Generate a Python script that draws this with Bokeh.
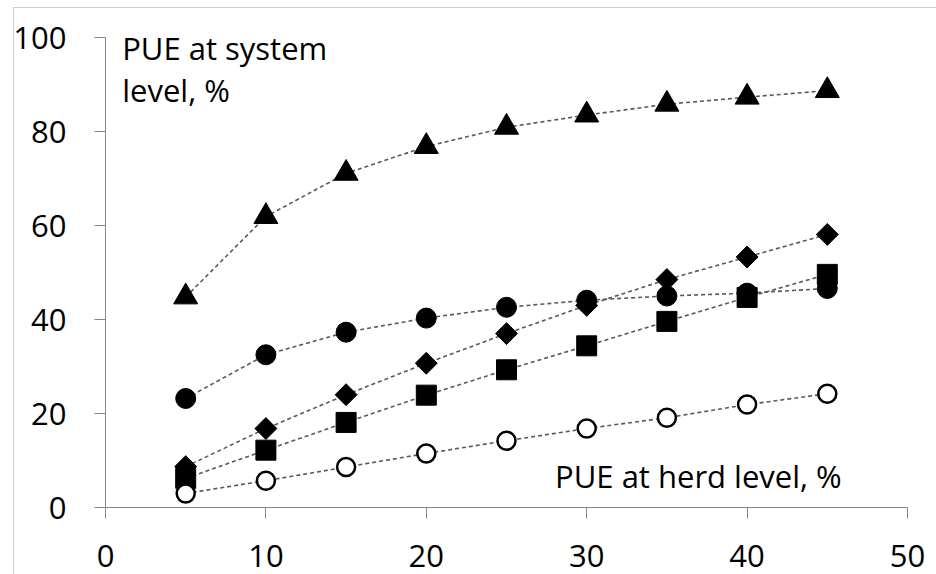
from math import pi
from bokeh.plotting import figure
from bokeh.models import FixedTicker, Label, Range1d
from bokeh.embed import file_html
from bokeh.resources import INLINE

# PUE at herd level, %
herd = [5, 10, 15, 20, 25, 30, 35, 40, 45]
# PUE at system level, % (one list per marker series)
triangle_vals = [44.8, 61.9, 71.1, 76.8, 80.9, 83.5, 85.8, 87.3, 88.7]
circle_vals = [23.2, 32.5, 37.3, 40.3, 42.6, 44.1, 45.0, 45.6, 46.6]
diamond_vals = [8.7, 16.8, 24.0, 30.7, 37.0, 43.0, 48.5, 53.3, 58.1]
square_vals = [6.2, 12.2, 18.1, 23.9, 29.3, 34.4, 39.6, 44.7, 49.6]
open_circle_vals = [3.0, 5.7, 8.6, 11.5, 14.2, 16.8, 19.1, 21.9, 24.2]

x_ticks = [0, 10, 20, 30, 40, 50]
y_ticks = [0, 20, 40, 60, 80, 100]

FONT = "Open Sans"
FS = "31px"
AXIS_GRAY = "#868686"
LINE_GRAY = "#595959"
BORDER = "#d0d0d0"

p = figure(width=936, height=574, output_backend="svg", toolbar_location=None,
           x_range=Range1d(0, 50), y_range=Range1d(0, 100),
           min_border_left=105, min_border_right=29, min_border_top=37,
           min_border_bottom=67)
p.xgrid.visible = False
p.ygrid.visible = False
p.outline_line_color = None
p.background_fill_color = "white"
p.border_fill_color = None
p.styles = {
    "background": (f"linear-gradient({BORDER},{BORDER}) 13px 7px / 100% 1px no-repeat, "
                   f"linear-gradient({BORDER},{BORDER}) 13px 7px / 1px 100% no-repeat, "
                   "white"),
}

p.xaxis.ticker = FixedTicker(ticks=x_ticks)
p.yaxis.ticker = FixedTicker(ticks=y_ticks)
for ax in (p.xaxis[0], p.yaxis[0]):
    ax.axis_line_color = AXIS_GRAY
    ax.major_tick_line_color = AXIS_GRAY
    ax.minor_tick_line_color = None
    ax.major_tick_out = 11
    ax.major_tick_in = 0
    ax.major_label_text_font = FONT
    ax.major_label_text_font_size = FS
    ax.major_label_text_color = "black"
p.xaxis.major_label_standoff = 26
p.yaxis.major_label_standoff = 28

series = [triangle_vals, circle_vals, diamond_vals, square_vals, open_circle_vals]
for vals in series:
    p.line(herd, vals, line_dash="4 3", line_color=LINE_GRAY, line_width=1.6)

p.scatter(herd, triangle_vals, marker="triangle", size=24, color="black")
p.scatter(herd, circle_vals, marker="circle", size=20, color="black")
p.scatter(herd, diamond_vals, marker="square", angle=pi / 4, size=15.5, color="black")
p.scatter(herd, square_vals, marker="square", size=20, color="black")
p.scatter(herd, open_circle_vals, marker="circle", size=18, fill_color="white",
          line_color="black", line_width=2.5)

p.add_layout(Label(x=1.04, y=97.8, text="PUE at system", text_baseline="middle",
                   text_align="left", text_font=FONT, text_font_size=FS,
                   text_color="black"))
p.add_layout(Label(x=1.04, y=88.9, text="level, %", text_baseline="middle",
                   text_align="left", text_font=FONT, text_font_size=FS,
                   text_color="black"))
p.add_layout(Label(x=45.9, y=6.8, text="PUE at herd level, %", text_baseline="middle",
                   text_align="right", text_font=FONT, text_font_size=FS,
                   text_color="black"))

open("out.html", "w").write(file_html(p, INLINE))
